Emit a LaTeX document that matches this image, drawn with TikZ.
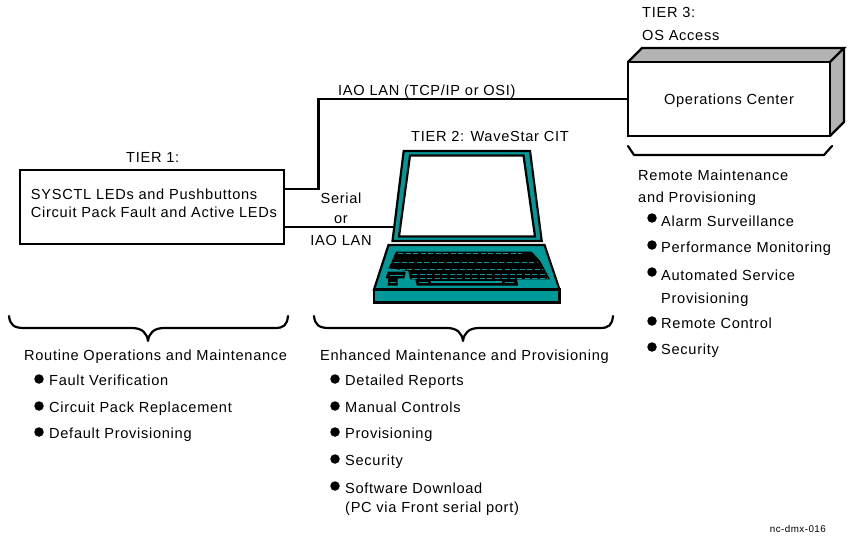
\documentclass[tikz,border=0pt]{standalone}
\usepackage{fontspec}
\setmainfont[LetterSpace=4.8]{Liberation Sans}
\usetikzlibrary{positioning}
\definecolor{citteal}{HTML}{009999}
\definecolor{opsgray}{HTML}{B3B3B3}
\tikzset{
	label/.style={anchor=base west, inner sep=0pt, font=\fontsize{14.6}{16}\selectfont},
	clabel/.style={label, anchor=base},
	tierbox/.style={draw, line width=2.6pt, inner sep=0pt, font=\fontsize{14.6}{18}\selectfont},
	link/.style={line width=2.6pt},
	bull/.style={circle, fill=black, inner sep=0pt, minimum size=9.5pt},
	brace/.style={line width=2.2pt, line cap=round, line join=round},
	hull/.style={draw=black, line width=2.2pt, line join=miter}
}
\begin{document}
\begin{tikzpicture}[x=1pt,y=-1pt]
	\useasboundingbox[fill=white] (0,0) rectangle (853,540);
	% tier 1
	\node[tierbox, minimum width=264pt, minimum height=74pt, align=left] (sysbox) at (152,207)
		{\hspace*{4pt}\raisebox{7pt}{SYSCTL LEDs and Pushbuttons}\\\hspace*{4pt}\raisebox{7pt}{Circuit Pack Fault and Active LEDs}};
	\node[label] (tierone) at (126,163) {TIER 1:};
	% tier 3
	\fill[opsgray] (628,62)--(642,48)--(844,48)--(844,122)--(830,136)--(830,62)--cycle;
	\draw[hull] (628,62)--(642,48)--(844,48)--(830,62);
	\draw[hull] (844,48)--(844,122)--(830,136);
	\node[tierbox, minimum width=202pt, minimum height=74pt] (opsbox) at (729,99) {\raisebox{-5.5pt}[0pt][0pt]{Operations Center}};
	\node[label] (tierthree) at (642,18) {TIER 3:};
	\node[label] (osaccess) at (642,41) {OS Access};
	% laptop
	\filldraw[fill=citteal, hull] (403.7,151)--(530,151)--(541.7,241)--(392.5,241)--cycle;
	\filldraw[fill=white, hull] (410,155.5)--(523.5,155.5)--(535,236.5)--(399,236.5)--cycle;
	\coordinate (screenleft) at (393.5,227);
	\filldraw[fill=citteal, hull] (388.5,245)--(544.5,245)--(559.5,289.5)--(374,289.5)--cycle;
	\filldraw[fill=citteal, hull] (374,289.5)--(559.5,289.5)--(559.5,302.5)--(374,302.5)--cycle;
	% keys
	\fill (395.7,251.7)--(531.7,251.7)--(540,260.7)--(545,270)--(550,279.3)--(410,279.3)--(408.3,271)--(388.3,268.3)--(392,260.7)--cycle;
	\fill (387.7,271.7)--(405.7,271.7)--(404.3,278.3)--(397.7,278.3)--(397.7,285.7)--(387.7,285.7)--(388.3,278.3)--(385.7,278.3)--cycle;
	\fill (415,278.3)--(516.7,278.3)--(518.3,285.7)--(416.7,285.7)--cycle;
	\foreach \rowy/\rowl/\rowr in {253.7/398/522, 262/394/538, 269/392/543, 274/412/546, 278.3/412/548}
		\draw[citteal, line width=1pt, dash pattern=on 5pt off 2.5pt] (\rowl,\rowy)--(\rowr,\rowy);
	\draw[citteal, line width=1.2pt] (431,282)--(502,282);
	\draw[citteal, line width=1pt] (419,282)--(428,282);
	\draw[citteal, line width=1pt] (505,282)--(514,282);
	\draw[citteal, line width=1pt] (390,275)--(403,275);
	\draw[citteal, line width=1pt] (390,282)--(396,282);
	\node[label] (tiertwo) at (411,142) {TIER 2: WaveStar CIT};
	% links
	\draw[link] ([yshift=18pt]sysbox.east) -- ++(33,0) |- (opsbox.west);
	\draw[link] ([yshift=-20pt]sysbox.east) -- (screenleft);
	\node[label] (iaolan) at (338,96) {IAO LAN (TCP/IP or OSI)};
	\node[clabel] (serial) at (341,204) {Serial};
	\node[clabel] (orlabel) at (341,223) {or};
	\node[clabel] (cablelan) at (341,245) {IAO LAN};
	% braces
	\draw[brace] (9,316) .. controls (10,325) and (14,328) .. (24,328) -- (132,328) .. controls (142,328) and (147,333) .. (148,341) .. controls (149,333) and (154,328) .. (164,328) -- (275,328) .. controls (284,328) and (287,325) .. (288,316);
	\draw[brace] (314,316) .. controls (315,325) and (319,328) .. (329,328) -- (447,328) .. controls (457,328) and (462,333) .. (463,341) .. controls (464,333) and (469,328) .. (479,328) -- (600,328) .. controls (609,328) and (612,325) .. (613,316);
	\draw[brace] (628,146)--(634,155)--(824,155)--(832,146);
	% tier 1 list
	\node[label] (routine) at (24,360) {Routine Operations and Maintenance};
	\foreach \nm/\by/\ty/\txt in {a/379/385/Fault Verification, b/406/412/Circuit Pack Replacement, c/432/438/Default Provisioning}{
		\node[bull] (dotl\nm) at (39,\by) {};
		\node[label] (iteml\nm) at (49,\ty) {\txt};
	}
	% tier 2 list
	\node[label] (enhanced) at (320,360) {Enhanced Maintenance and Provisioning};
	\foreach \nm/\by/\ty/\txt in {a/379/385/Detailed Reports, b/406/412/Manual Controls, c/432/438/Provisioning, d/459/465/Security, e/486/493/Software Download}{
		\node[bull] (dotm\nm) at (335,\by) {};
		\node[label] (itemm\nm) at (345,\ty) {\txt};
	}
	\node[label] (pcvia) at (345,512) {(PC via Front serial port)};
	% tier 3 list
	\node[label] (remote) at (638,180) {Remote Maintenance};
	\node[label] (andprov) at (638,202) {and Provisioning};
	\foreach \nm/\by/\ty/\txt in {a/218/226/Alarm Surveillance, b/245/252/Performance Monitoring, c/272/280/Automated Service, d/321/328/Remote Control, e/347/354/Security}{
		\node[bull] (dotr\nm) at (652,\by) {};
		\node[label] (itemr\nm) at (661,\ty) {\txt};
	}
	\node[label] (itemrx) at (661,303) {Provisioning};
	\node[anchor=base east, inner sep=0pt, font=\fontsize{9.8}{11}\selectfont] (figid) at (826,532) {nc-dmx-016};
\end{tikzpicture}
\end{document}
